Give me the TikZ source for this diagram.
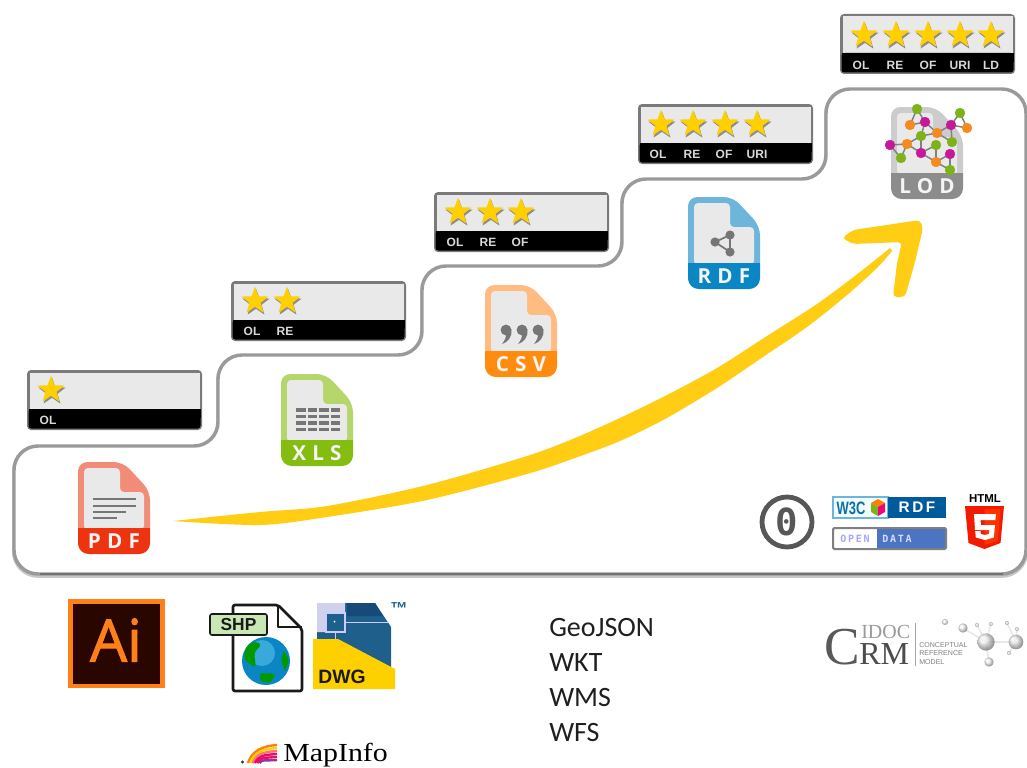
\documentclass[tikz,border=0pt]{standalone}
\usepackage{fontspec}
\setmainfont{Liberation Sans}
\newfontfamily\opensans[FakeBold=1.6]{Open Sans}
\newfontfamily\iconfont[LetterSpace=30]{Open Sans}
\newfontfamily\carlito{Carlito}
\newfontfamily\serifx{Liberation Serif}
\newfontfamily\monox{DejaVu Sans Mono}
\newfontfamily\monosp[LetterSpace=18]{DejaVu Sans Mono}
\usetikzlibrary{shapes.geometric}
\definecolor{panel}{HTML}{E9E9E9}
\definecolor{gold}{HTML}{FFD000}
\definecolor{swoosh}{HTML}{FFCE14}
\definecolor{stepline}{HTML}{9A9A9A}
\definecolor{icongray}{HTML}{767676}
\definecolor{gorange}{HTML}{F58A1F}
\definecolor{ggreen}{HTML}{7DB21B}
\definecolor{gmag}{HTML}{C8189A}
\definecolor{pdflight}{HTML}{F28C78}
\definecolor{pdfdark}{HTML}{EE3310}
\definecolor{xlslight}{HTML}{B5D66B}
\definecolor{xlsdark}{HTML}{85BC10}
\definecolor{csvlight}{HTML}{FFBB80}
\definecolor{csvdark}{HTML}{FF8C0F}
\definecolor{rdflight}{HTML}{6DB5D9}
\definecolor{rdfdark}{HTML}{0A86C4}
\definecolor{wblue}{HTML}{005A9C}
\definecolor{odblue}{HTML}{4B74C3}
\definecolor{dwgblue}{HTML}{1F5F8B}
\definecolor{dwgdark}{HTML}{174A78}
\tikzset{
  badge/.style={draw=#1,fill=#1,circle,inner sep=0pt,minimum size=7.4pt,line width=.3pt},
  gstar/.style={star,star points=5,star point ratio=2.45,inner sep=0pt,minimum size=21.5pt,fill=gold},
  gshadow/.style={star,star points=5,star point ratio=2.45,inner sep=0pt,minimum size=21.5pt,fill=black!45},
  ratinglabel/.style={text=white!85!black,font=\bfseries\fontsize{9}{10}\selectfont,inner sep=0pt},
  iconlabel/.style={text=white!96!black,font=\iconfont\bfseries\fontsize{15.5}{18}\selectfont,inner sep=0pt},
  formatlabel/.style={anchor=west,text=black!88,font=\carlito\fontsize{21}{24}\selectfont,inner sep=0pt},
  graphedge/.style={draw=black!50,line width=1.1pt},
  bond/.style={draw=black!9,line width=1.2pt},
  sphere/.style={circle,inner sep=0pt,ball color=black!7,shading=ball,opacity=.7}
}
\newcommand{\ratingbox}[3]{% name, x, y
  \fill[black!52,rounded corners=3pt] (#2,#3) rectangle ++(175,60);
  \fill[panel] (#2+2.5,#3+2.5) rectangle ++(170,37);
  \fill[black,rounded corners=2pt] (#2+1.5,#3+39) rectangle (#2+173.5,#3+58.5);
  \fill[black] (#2+1.5,#3+39) rectangle (#2+173.5,#3+48);
  \coordinate (#1) at (#2,#3);
}
\newcommand{\starat}[3]{% name, x, y
  \node[gshadow] (#1s) at (#2+1,#3+2) {};
  \node[gstar] (#1) at (#2,#3) {};
}
\newcommand{\fileicon}[6]{% name,x,y,light,dark,label
  \begin{scope}[shift={(#2,#3)}]
    \fill[#4,rounded corners=7pt] (0,0) -- (45,0) -- (72,29) -- (72,75) -- (0,75) -- cycle;
    \fill[panel,rounded corners=3pt] (6,6) -- (42,6) -- (42,30) -- (66,30) -- (66,68) -- (6,68) -- cycle;
    \fill[#5] [sharp corners] (0,66) -- (72,66) [rounded corners=8pt] -- (72,92) -- (0,92) [sharp corners] -- (0,66) -- cycle;
    \node[iconlabel] (#1) at (36,79.5) {#6};
  \end{scope}
}
\begin{document}
\begin{tikzpicture}[x=0.75pt,y=-0.75pt]
\useasboundingbox (0,0) rectangle (1027,767);
\clip (0,0) rectangle (1027,767);
% staircase outline with its shadow
\draw[black!22,line width=3pt,rounded corners=18pt,yshift=-1.4pt]
  (14,500) -- (14,446) -- (218,446) -- (218,355) -- (422,355) -- (422,266) -- (622,266) -- (622,179) -- (826,179) -- (826,89) -- (1026,89) -- (1026,574) -- (14,574) -- cycle;
\draw[stepline,line width=2.6pt,rounded corners=18pt,fill=white]
  (14,500) -- (14,446) -- (218,446) -- (218,355) -- (422,355) -- (422,266) -- (622,266) -- (622,179) -- (826,179) -- (826,89) -- (1026,89) -- (1026,574) -- (14,574) -- cycle;
\draw[black!55,line width=1.4pt] (40,574) -- (1003,574);
% rating boxes
\ratingbox{ra}{27}{370}
\ratingbox{rb}{231}{281}
\ratingbox{rc}{434}{192}
\ratingbox{rd}{638}{104}
\ratingbox{re}{840}{14}
\starat{sa1}{51}{390}
\starat{sb1}{255}{301}\starat{sb2}{287}{301}
\starat{sc1}{458}{212}\starat{sc2}{490}{212}\starat{sc3}{521}{212}
\starat{sd1}{661}{124}\starat{sd2}{693}{124}\starat{sd3}{725}{124}\starat{sd4}{757}{124}
\starat{se1}{864}{35}\starat{se2}{896}{35}\starat{se3}{928}{35}\starat{se4}{960}{35}\starat{se5}{991}{35}
\node[ratinglabel] (la1) at (48,420) {OL};
\node[ratinglabel] (lb1) at (252,331) {OL};
\node[ratinglabel] (lb2) at (285,331) {RE};
\node[ratinglabel] (lc1) at (455,242) {OL};
\node[ratinglabel] (lc2) at (488,242) {RE};
\node[ratinglabel] (lc3) at (520,242) {OF};
\node[ratinglabel] (ld1) at (658,154) {OL};
\node[ratinglabel] (ld2) at (692,154) {RE};
\node[ratinglabel] (ld3) at (724,154) {OF};
\node[ratinglabel] (ld4) at (757,154) {URI};
\node[ratinglabel] (le1) at (861,65) {OL};
\node[ratinglabel] (le2) at (895,65) {RE};
\node[ratinglabel] (le3) at (928,65) {OF};
\node[ratinglabel] (le4) at (960,65) {URI};
\node[ratinglabel] (le5) at (991,65) {LD};
% swoosh arrow
\fill[swoosh] plot[smooth,tension=.5] coordinates {(173,521) (260,512) (327,506) (427,485) (527,456) (575,438) (622,417) (667,395) (717,368) (767,336) (817,304) (860,272) (890,248)} -- (892,251) -- plot[smooth,tension=.5] coordinates {(892,251) (877,268) (847,295) (807,327) (760,359) (717,388) (665,419) (620,441) (575,458) (527,474) (427,500) (327,517) (260,525) (173,521)} -- cycle;
\fill[swoosh,rounded corners=3pt] (842,238) -- (853,230) -- (920,220) -- (923,228) -- (915,262) -- (905,297) -- (893,297) -- (897,263) -- (902,242) -- (853,244) -- cycle;
% file icons
\fileicon{pdf}{78}{462}{pdflight}{pdfdark}{PDF}
\fileicon{xls}{281}{374}{xlslight}{xlsdark}{XLS}
\fileicon{csv}{485}{285}{csvlight}{csvdark}{CSV}
\fileicon{rdf}{688}{197}{rdflight}{rdfdark}{RDF}
\fileicon{lod}{891}{107}{black!20}{black!45}{LOD}
% PDF text lines
\begin{scope}[shift={(78,462)},draw=icongray,line width=1.5pt]
  \draw (15,37) -- (58,37); \draw (15,44) -- (58,44); \draw (15,50) -- (48,50); \draw (15,56) -- (39,56);
\end{scope}
% XLS grid
\begin{scope}[shift={(281,374)}]
  \foreach \yy in {34,40.5,47,53.5}{\foreach \xx in {15,26.5,38,49.5}{\fill[icongray] (\xx,\yy) rectangle ++(9.5,3.6);}}
\end{scope}
% CSV marks
\begin{scope}[shift={(485,285)}]
  \foreach \xx in {21,37,53}{
    \fill[icongray] (\xx,45) circle[radius=5.4];
    \fill[icongray] (\xx+5.3,44) .. controls (\xx+6.5,52) and (\xx+2,57) .. (\xx-4,59) .. controls (\xx-1,55) and (\xx+0,53) .. (\xx,49) -- cycle;
  }
\end{scope}
% RDF share symbol
\begin{scope}[shift={(688,197)}]
  \coordinate (sh1) at (27,45); \coordinate (sh2) at (42,38); \coordinate (sh3) at (42,55);
  \draw[icongray,line width=1.3pt] (sh2) -- (sh1) -- (sh3) -- (sh2);
  \foreach \pp in {sh1,sh2,sh3}{\fill[icongray] (\pp) circle[radius=4.6];}
\end{scope}
% LOD graph
\foreach \nm/\xx/\yy in {a/917/109,b/910/125,c/925/122,d/937/133,e/951/125,f/960/113,g/967/128,h/952/142,i/921/136,j/907/144,k/890/145,l/901/158,m/921/153,n/936/145,o/936/162,p/950/154,q/950/170}{\coordinate (g\nm) at (\xx,\yy);}
\foreach \aa/\bb in {a/b,a/c,b/c,c/d,d/e,e/f,f/g,e/g,e/h,d/h,d/i,i/j,c/i,j/k,k/l,j/l,j/m,i/m,m/n,m/o,n/o,o/p,o/q,p/q}{\draw[graphedge] (g\aa) -- (g\bb);}
\foreach \nm in {a,f,h,i,l,n,q}{\node[badge=ggreen] (n\nm) at (g\nm) {};}
\foreach \nm in {b,d,g,j,o}{\node[badge=gorange] (n\nm) at (g\nm) {};}
\foreach \nm in {c,e,k,m,p}{\node[badge=gmag] (n\nm) at (g\nm) {};}
% CC0
\draw[black!66,line width=3.6pt] (787,522) circle[radius=25];
\node[inner sep=0pt,text=black!66,font=\monox\bfseries\fontsize{28}{30}\selectfont] (cc0) at (787,522) {0};
% W3C RDF
\fill[cyan!5!white] (833,497) rectangle (888,518);
\draw[rdflight,line width=.8pt] (833,497) rectangle (888,518);
\fill[wblue] (888,497) rectangle (946,518);
\node[inner sep=0pt,text=rdfdark!85!black,font=\bfseries\fontsize{13.5}{14}\selectfont] (wthree) at (851,508) {\scalebox{.72}[1]{W3C}};
\fill[orange] (878,499) -- (885,503) -- (878,507) -- (871,503) -- cycle;
\fill[ggreen] (871,503) -- (878,507) -- (878,516) -- (871,512) -- cycle;
\fill[magenta!80!red] (885,503) -- (878,507) -- (878,516) -- (885,512) -- cycle;
\node[inner sep=0pt,text=white,font=\bfseries\fontsize{11.5}{12}\selectfont] (rdftag) at (917,507.5) {R\,D\,F};
% Open Data
\fill[white] (833,528) rectangle (877,549);
\fill[odblue] (877,529) rectangle (946,548);
\draw[black!50,line width=1.5pt,rounded corners=1pt] (833,528) rectangle (946,549);
\node[inner sep=0pt,text=blue!35!white,font=\monosp\bfseries\fontsize{7.5}{8}\selectfont] (opentag) at (855,538.5) {OPEN};
\node[inner sep=0pt,text=white!85!blue,font=\monosp\bfseries\fontsize{7.5}{8}\selectfont] (datatag) at (897,538.5) {DATA};
% HTML5
\node[inner sep=0pt,text=black,font=\bfseries\fontsize{8.6}{9}\selectfont] (htmltag) at (985,499) {HTML};
\fill[red!78!orange!95!black] (965,506) -- (1004,506) -- (1000.5,543) -- (984.5,549) -- (968.5,543) -- cycle;
\fill[red!60!orange] (984.5,509) -- (1000.5,509) -- (997.5,541) -- (984.5,545) -- cycle;
\fill[white] (974,514) -- (996,514) -- (995.4,520) -- (980.5,520) -- (981,525) -- (995,525) -- (993.8,537.5) -- (985,540) -- (975.8,537.5) -- (975.2,531) -- (980.5,531) -- (980.8,534) -- (985,535) -- (989,534) -- (989.5,530) -- (975,530) -- cycle;
% Ai
\definecolor{aibg}{HTML}{2A0600}
\definecolor{aiorange}{HTML}{FF7F18}
\draw[aiorange,line width=3.6pt,fill=aibg] (70.5,601.5) rectangle (162.5,686);
\node[inner sep=0pt,text=aiorange,font=\opensans\fontsize{44}{46}\selectfont] (ai) at (116,640) {Ai};
% SHP
\definecolor{shpgreen}{HTML}{C9E7B4}
\draw[black!90,line width=2pt,fill=white,line join=round,rounded corners=1.5pt] (233,605) -- (278,605) -- (302,629) -- (302,691) -- (233,691) -- cycle;
\draw[black!90,line width=2pt,line join=round] (278,605) -- (278,627) -- (302,627);
\fill[rdfdark] (266,661) circle[radius=24];
\fill[cyan!55!white,opacity=.45] (262,653) circle[radius=13];
\fill[green!60!black,rounded corners=3pt] (246,646) -- (256,641) -- (262,645) -- (254,652) -- (256,668) -- (244,660) -- cycle;
\fill[green!60!black,rounded corners=2pt] (260,673) -- (276,674) -- (270,683) -- (260,681) -- cycle;
\fill[green!60!black,rounded corners=2pt] (284,650) -- (289,660) -- (285,672) -- (281,660) -- cycle;
\draw[black!90,line width=1.2pt,fill=shpgreen,rounded corners=1.5pt] (210,614) rectangle (267,635);
\node[inner sep=0pt,text=black!90,font=\bfseries\fontsize{13}{14}\selectfont] (shp) at (238.5,624.5) {SHP};
% DWG
\fill[dwgblue] (317,603) -- (375,603) -- (391,627) -- (391,672) -- (317,672) -- cycle;
\fill[dwgdark] (347,603) -- (375,603) -- (383,616) -- (347,616) -- cycle;
\fill[cyan!25!blue!18!white] (317,603) -- (345,603) -- (345,612) -- (326,612) -- (326,632) -- (317,632) -- cycle;
\draw[white!80!blue,line width=1pt] (326,613) rectangle (345,632);
\draw[white!80!blue,line width=.7pt] (345,622) -- (388,622) (335,632) -- (335,640);
\fill[white] (334.5,621.5) circle[radius=1];
\fill[gold] (313,639) -- (338,639) -- (395,669) -- (395,689) -- (313,689) -- cycle;
\node[inner sep=0pt,text=black!90,font=\bfseries\fontsize{14.5}{15}\selectfont] (dwg) at (342,677) {DWG};
\node[inner sep=0pt,text=dwgblue,font=\bfseries\fontsize{13}{14}\selectfont] (tm) at (399,609) {™};
% format list
\node[formatlabel] (geojson) at (549,628) {GeoJSON};
\node[formatlabel] (wkt) at (549,663) {WKT};
\node[formatlabel] (wms) at (549,698) {WMS};
\node[formatlabel] (wfs) at (549,733) {WFS};
% MapInfo
\fill[black!80] (242.5,762) circle[radius=1.7];
\foreach \cc/\ii in {orange/0,yellow!70!orange/1,red!55!white/2,magenta!70!red/3,magenta!55!red/4,violet!80!white/5}{
  \draw[\cc,line width=1.8pt] (248+\ii*2.3,763) .. controls (252+\ii*2.3,751+\ii*1.6) and (262,746+\ii*3) .. (277,745+\ii*3);
}
\node[anchor=base west,inner sep=0pt,text=black,font=\serifx\fontsize{19.5}{21}\selectfont] (mapinfo) at (283,761) {\scalebox{1.15}[1]{MapInfo}};
% CIDOC CRM
\foreach \aa/\bb in {945/622,963/628,977/625,991/624,1007/623,1017/629}{\coordinate (bb\aa) at (\aa,\bb);}
\coordinate (ma) at (986,642); \coordinate (mb) at (1016,642); \coordinate (mc) at (989,662); \coordinate (md) at (1009,653);
\draw[bond] (ma) -- (mb) (ma) -- (bb963) (ma) -- (bb977) (ma) -- (bb991) (ma) -- (mc) (mb) -- (bb1007) (mb) -- (bb1017) (mb) -- (md);
\foreach \nm/\rr in {bb945/4.5pt,bb963/7pt,bb977/3pt,bb991/3pt,bb1007/3pt,bb1017/3pt,ma/13pt,mb/11pt,mc/7pt,md/3pt}{\node[sphere,minimum size=\rr] (x\nm) at (\nm) {};}
\node[inner sep=0pt,anchor=base west,text=black!65,font=\serifx\fontsize{40}{41}\selectfont] (crmc) at (824,664.5) {C};
\node[inner sep=0pt,anchor=base west,text=black!70,font=\serifx\fontsize{24}{25}\selectfont] (crmrm) at (859,664.5) {RM};
\node[inner sep=0pt,anchor=base west,text=black!40,font=\serifx\fontsize{15}{16}\selectfont] (crmidoc) at (861,638) {IDOC};
\draw[black!35,line width=.7pt] (915,623) -- (915,666);
\node[inner sep=0pt,anchor=west,text=black!50,font=\fontsize{5.3}{6}\selectfont] (crma) at (919,645) {CONCEPTUAL};
\node[inner sep=0pt,anchor=west,text=black!50,font=\fontsize{5.3}{6}\selectfont] (crmb) at (919,653.5) {REFERENCE};
\node[inner sep=0pt,anchor=west,text=black!50,font=\fontsize{5.3}{6}\selectfont] (crmd) at (919,662) {MODEL};
\end{tikzpicture}
\end{document}
